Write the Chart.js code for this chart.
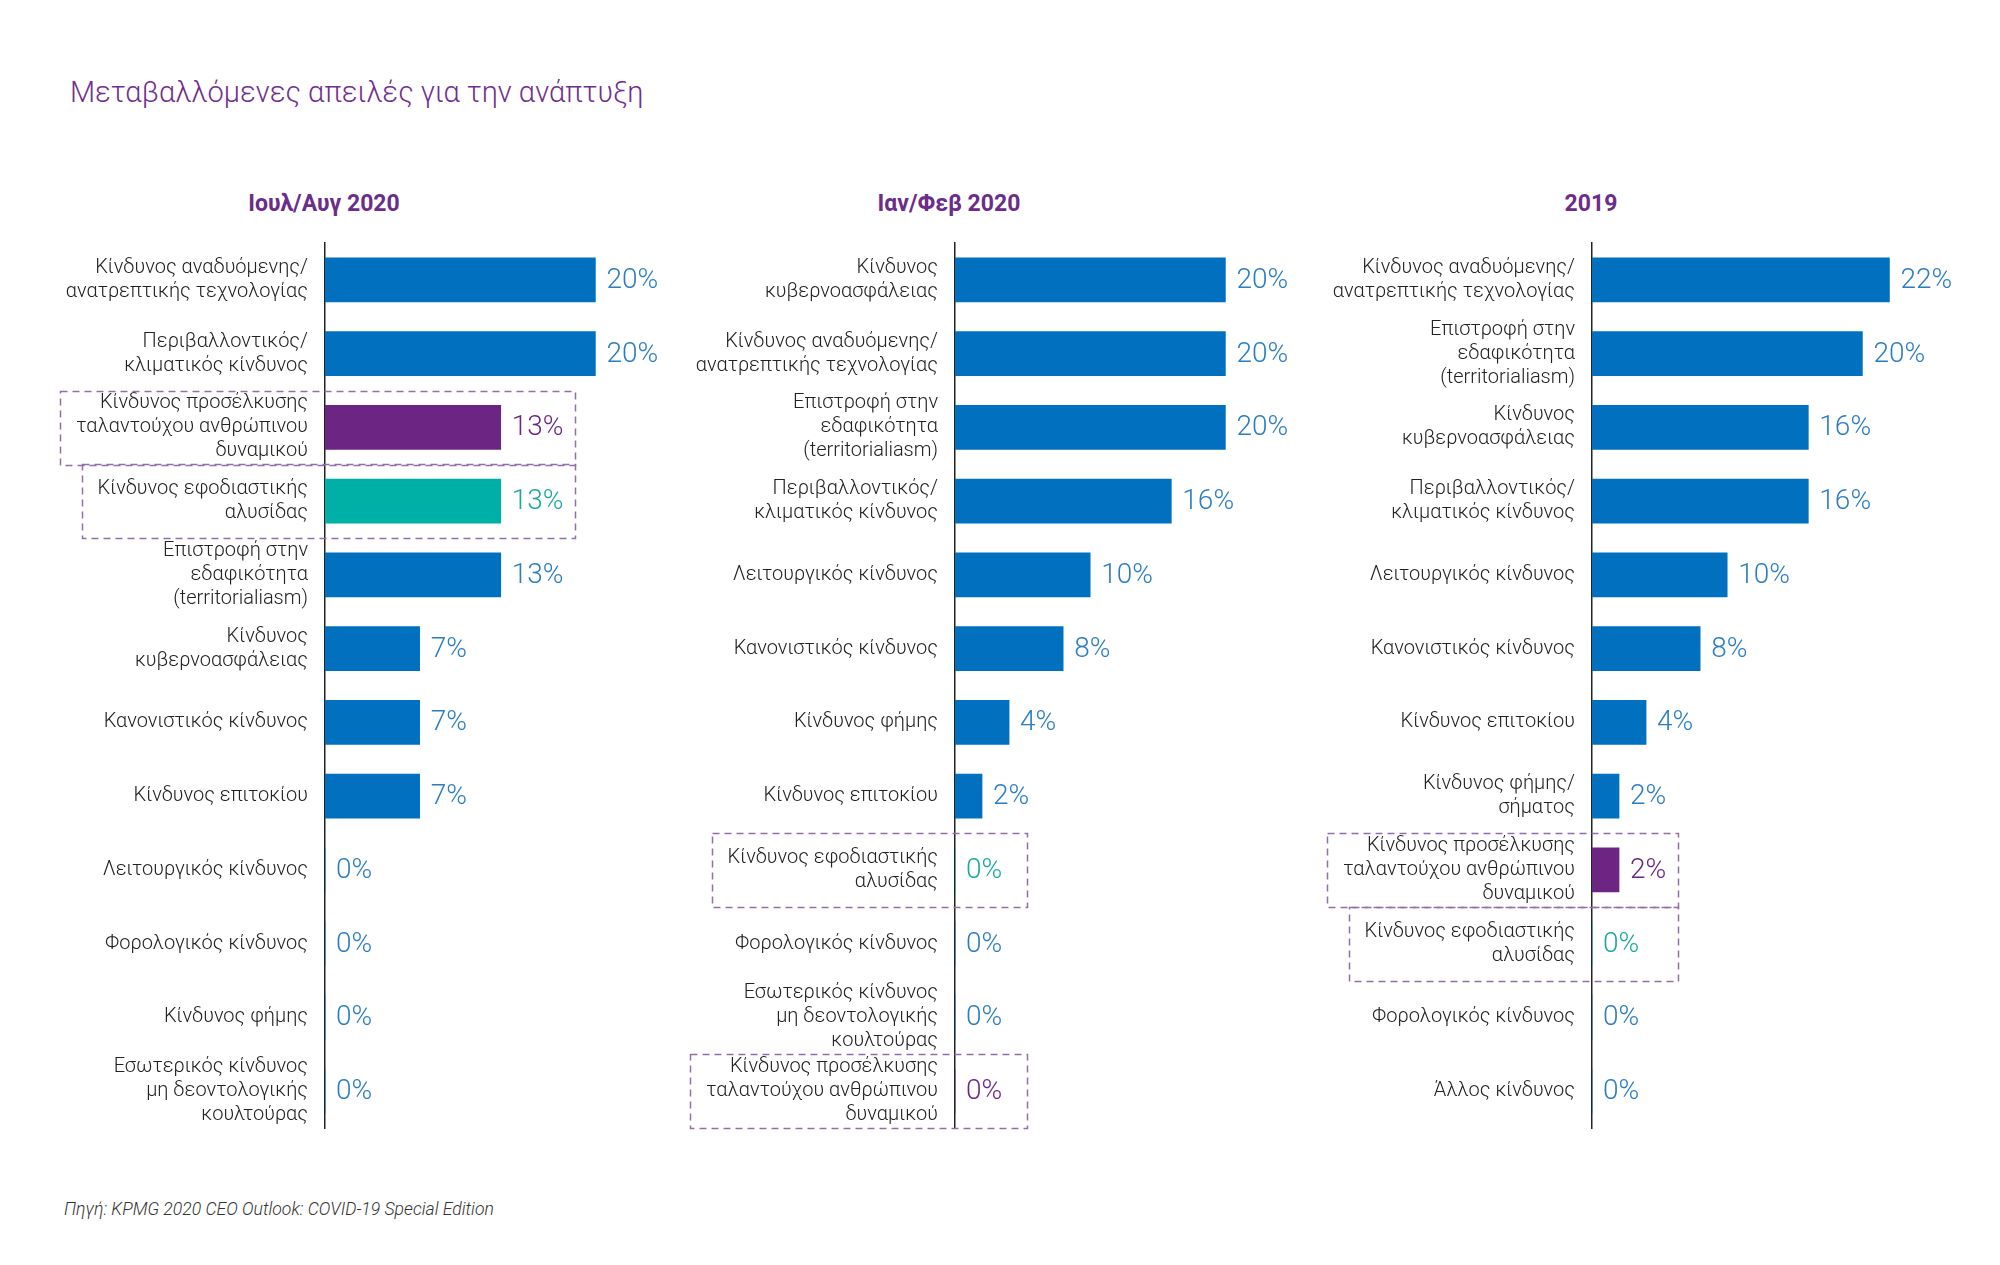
<!DOCTYPE html>
<html lang="el">
<head>
<meta charset="utf-8">
<title>Μεταβαλλόμενες απειλές για την ανάπτυξη</title>
<script src="https://cdn.jsdelivr.net/npm/chart.js@4.4.1/dist/chart.umd.min.js"></script>
<style>
  html, body { margin: 0; padding: 0; background: #fff; }
  #page { position: relative; width: 2000px; height: 1265px; overflow: hidden; font-family: Roboto, "Noto Sans", sans-serif; }
  .title { position: absolute; left: 70px; top: 78px; font-size: 29px; line-height: 1; font-weight: 300; color: #712f8f; white-space: nowrap; }
  .head { position: absolute; top: 192px; font-size: 23px; line-height: 1; font-weight: 700; color: #6b2c8a; transform: translateX(-50%); white-space: nowrap; }
  .src { position: absolute; left: 64px; top: 1201px; font-size: 17.6px; line-height: 1; font-style: italic; font-weight: 300; color: #333; white-space: nowrap; }
  canvas { position: absolute; top: 0; }
</style>
</head>
<body>
<div id="page">
  <div class="title" id="title"></div>
  <div class="src" id="src"></div>
</div>
<script>
const TITLE = 'Μεταβαλλόμενες απειλές για την ανάπτυξη';
const SOURCE = 'Πηγή: KPMG 2020 CEO Outlook: COVID-19 Special Edition';
const periods = ['Ιουλ/Αυγ 2020', 'Ιαν/Φεβ 2020', '2019'];

const categoriesJulAug2020 = [
    ['Κίνδυνος αναδυόμενης/', 'ανατρεπτικής τεχνολογίας'],
    ['Περιβαλλοντικός/', 'κλιματικός κίνδυνος'],
    ['Κίνδυνος προσέλκυσης', 'ταλαντούχου ανθρώπινου', 'δυναμικού'],
    ['Κίνδυνος εφοδιαστικής', 'αλυσίδας'],
    ['Επιστροφή στην', 'εδαφικότητα', '(territorialiasm)'],
    ['Κίνδυνος', 'κυβερνοασφάλειας'],
    'Κανονιστικός κίνδυνος',
    'Κίνδυνος επιτοκίου',
    'Λειτουργικός κίνδυνος',
    'Φορολογικός κίνδυνος',
    'Κίνδυνος φήμης',
    ['Εσωτερικός κίνδυνος', 'μη δεοντολογικής', 'κουλτούρας']
];
const valuesJulAug2020 = [20, 20, 13, 13, 13, 7, 7, 7, 0, 0, 0, 0];

const categoriesJanFeb2020 = [
    ['Κίνδυνος', 'κυβερνοασφάλειας'],
    ['Κίνδυνος αναδυόμενης/', 'ανατρεπτικής τεχνολογίας'],
    ['Επιστροφή στην', 'εδαφικότητα', '(territorialiasm)'],
    ['Περιβαλλοντικός/', 'κλιματικός κίνδυνος'],
    'Λειτουργικός κίνδυνος',
    'Κανονιστικός κίνδυνος',
    'Κίνδυνος φήμης',
    'Κίνδυνος επιτοκίου',
    ['Κίνδυνος εφοδιαστικής', 'αλυσίδας'],
    'Φορολογικός κίνδυνος',
    ['Εσωτερικός κίνδυνος', 'μη δεοντολογικής', 'κουλτούρας'],
    ['Κίνδυνος προσέλκυσης', 'ταλαντούχου ανθρώπινου', 'δυναμικού']
];
const valuesJanFeb2020 = [20, 20, 20, 16, 10, 8, 4, 2, 0, 0, 0, 0];

const categories2019 = [
    ['Κίνδυνος αναδυόμενης/', 'ανατρεπτικής τεχνολογίας'],
    ['Επιστροφή στην', 'εδαφικότητα', '(territorialiasm)'],
    ['Κίνδυνος', 'κυβερνοασφάλειας'],
    ['Περιβαλλοντικός/', 'κλιματικός κίνδυνος'],
    'Λειτουργικός κίνδυνος',
    'Κανονιστικός κίνδυνος',
    'Κίνδυνος επιτοκίου',
    ['Κίνδυνος φήμης/', 'σήματος'],
    ['Κίνδυνος προσέλκυσης', 'ταλαντούχου ανθρώπινου', 'δυναμικού'],
    ['Κίνδυνος εφοδιαστικής', 'αλυσίδας'],
    'Φορολογικός κίνδυνος',
    'Άλλος κίνδυνος'
];
const values2019 = [22, 20, 16, 16, 10, 8, 4, 2, 2, 0, 0, 0];

const BAR_COLOR = {plain: '#0070bf', talent: '#6c2583', supply: '#00b0a6'};
const TEXT_COLOR = {plain: '#2b7dc3', talent: '#6c2583', supply: '#1aa99d'};
const LABEL_FONT = {family: 'Roboto', size: 20, weight: '300', lineHeight: 24 / 20};
const LABEL_PAD = 17;

// talent / supply chain rows get their own colour and a dashed frame
function kindOf(label) {
    const first = Array.isArray(label) ? label[0] : label;
    if (first.indexOf('προσέλκυσης') >= 0) return 'talent';
    if (first.indexOf('εφοδιαστικής') >= 0) return 'supply';
    return 'plain';
}

const valueLabels = {
    id: 'valueLabels',
    afterDatasetsDraw(chart) {
        const ctx = chart.ctx;
        const meta = chart.getDatasetMeta(0);
        const vals = chart.data.datasets[0].data;
        ctx.save();
        ctx.font = '300 28px Roboto';
        ctx.textBaseline = 'middle';
        ctx.textAlign = 'left';
        meta.data.forEach((bar, i) => {
            ctx.fillStyle = TEXT_COLOR[kindOf(chart.data.labels[i])];
            ctx.fillText(vals[i] + '%', bar.x + 11, bar.y + 1);
        });
        ctx.restore();
    }
};

const dashedBoxes = {
    id: 'dashedBoxes',
    afterDraw(chart, args, opts) {
        const {ctx, chartArea} = chart;
        const y = chart.scales.y;
        const labels = chart.data.labels;
        const band = (chartArea.bottom - chartArea.top) / labels.length;
        ctx.save();
        ctx.font = LABEL_FONT.weight + ' ' + LABEL_FONT.size + 'px ' + LABEL_FONT.family;
        ctx.strokeStyle = '#9270a6';
        ctx.lineWidth = 1.5;
        ctx.setLineDash([7, 5]);
        labels.forEach((lab, i) => {
            if (kindOf(lab) === 'plain') return;
            const lines = Array.isArray(lab) ? lab : [lab];
            const w = Math.max(...lines.map(s => ctx.measureText(s).width));
            const cy = y.getPixelForValue(i);
            const left = Math.round(y.right - LABEL_PAD - w - 16) + 0.5;
            const right = Math.round(y.right + opts.right) + 0.5;
            ctx.strokeRect(left, Math.round(cy - band / 2) + 0.5, right - left, Math.round(band));
        });
        ctx.restore();
    }
};

function makePanel(left, axisX, width, boxRight, labels, values) {
    const canvas = document.createElement('CANVAS');
    canvas.width = width;
    canvas.height = 1265;
    canvas.style.left = left + 'px';
    document.getElementById('page').append(canvas);

    const axisW = axisX - left;
    return new Chart(canvas, {
        type: 'bar',
        data: {
            labels: labels,
            datasets: [{
                data: values,
                backgroundColor: labels.map(l => BAR_COLOR[kindOf(l)]),
                borderWidth: 0,
                barThickness: 44
            }]
        },
        options: {
            indexAxis: 'y',
            responsive: false,
            animation: false,
            layout: {padding: {top: 243, bottom: 137, left: 0, right: width - axisW - 338}},
            plugins: {
                legend: {display: false},
                tooltip: {enabled: false},
                dashedBoxes: {right: boxRight}
            },
            scales: {
                x: {display: false, min: 0, max: 25},
                y: {
                    afterFit: (scale) => { scale.width = axisW; },
                    grid: {display: false, drawTicks: false},
                    border: {display: true, color: '#222', width: 1.5},
                    ticks: {color: '#222', font: LABEL_FONT, padding: LABEL_PAD, autoSkip: false}
                }
            }
        },
        plugins: [valueLabels, dashedBoxes]
    });
}

document.getElementById('title').innerText = TITLE;
document.getElementById('src').innerText = SOURCE;

const heads = [324, 949, 1591];
periods.forEach((p, i) => {
    const h = document.createElement('DIV');
    h.classList.add('head');
    h.style.left = heads[i] + 'px';
    h.innerText = p;
    document.getElementById('page').append(h);
});

makePanel(0, 325, 700, 250, categoriesJulAug2020, valuesJulAug2020);
makePanel(640, 955, 700, 72, categoriesJanFeb2020, valuesJanFeb2020);
makePanel(1280, 1592, 720, 86, categories2019, values2019);
</script>
</body>
</html>
